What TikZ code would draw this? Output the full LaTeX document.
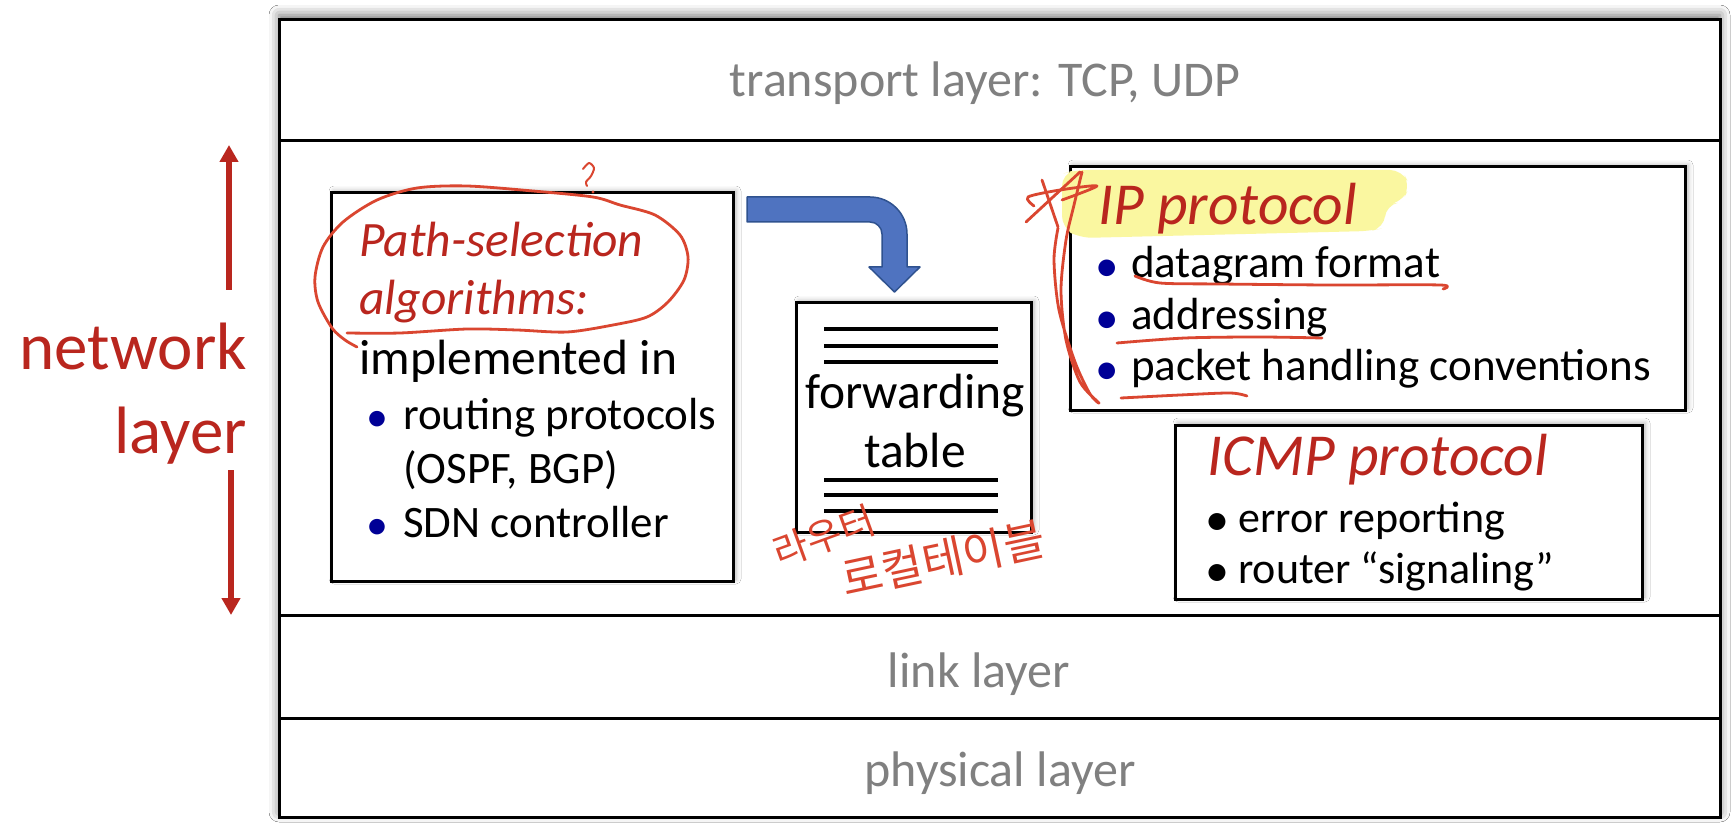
\documentclass[tikz,border=0pt]{standalone}
\usepackage{fontspec}
\setmainfont{Carlito}
\newfontfamily\krfont{Noto Sans CJK KR}
\usetikzlibrary{arrows.meta,positioning,calc,shadows.blur}

\definecolor{netred}{RGB}{185,38,30}
\definecolor{layergray}{RGB}{128,128,128}
\definecolor{bulletblue}{RGB}{0,0,150}
\definecolor{arrowblue}{RGB}{79,115,192}
\definecolor{arrowedge}{RGB}{47,82,143}
\definecolor{penred}{RGB}{218,70,48}
\definecolor{marker}{RGB}{250,247,160}

\begin{document}
\begin{tikzpicture}[
    x=1pt, y=-1pt,
    box/.style={draw, line width=3pt, fill=white, inner sep=0pt,
        blur shadow={shadow xshift=3pt, shadow yshift=2pt, shadow blur radius=5pt, shadow opacity=30}},
    layer text/.style={anchor=base, inner sep=0pt, text=layergray, font=\fontsize{50}{60}\selectfont},
    boxtext/.style={anchor=base west, inner sep=0pt, font=\fontsize{49.5}{58}\selectfont},
    subtext/.style={anchor=base west, inner sep=0pt, font=\fontsize{45}{53}\selectfont},
    smalltext/.style={anchor=base west, inner sep=0pt, font=\fontsize{44}{52}\selectfont},
    boxtitle/.style={anchor=base west, inner sep=0pt, text=netred, font=\fontsize{59.5}{70}\selectfont\itshape},
    bulletmark/.style={anchor=base, inner sep=0pt, text=bulletblue, font=\fontsize{44}{44}\selectfont},
    pen/.style={draw=penred, line width=2.8pt, line cap=round, line join=round},
    pen text/.style={inner sep=0pt, text=penred},
]

\fill[white] (0,0) rectangle (1732,826);
\useasboundingbox (0,0) rectangle (1732,826);

% === Protocol stack ===
\node[box, minimum width=1441pt, minimum height=797pt,
      blur shadow={shadow xshift=0pt, shadow yshift=5pt, shadow blur radius=10pt, shadow opacity=30}]
      (stack) at (999.5,418.5) {};
\draw[line width=3pt] (279,141) -- (1720,141);
\draw[line width=3pt] (279,615) -- (1720,615);
\draw[line width=3pt] (279,718) -- (1720,718);

\node[layer text] (transport) at (985,97) {transport layer: TCP, UDP};
\node[layer text] (link) at (979,687) {link layer};
\node[layer text] (physical) at (1000,786) {physical layer};

% === Network layer label ===
\node[anchor=base east, inner sep=0pt, text=netred, font=\fontsize{67}{80}\selectfont] (net1) at (247,369) {network};
\node[anchor=base east, inner sep=0pt, text=netred, font=\fontsize{67}{80}\selectfont] (net2) at (247,453) {layer};
\coordinate (uptop) at (229,145);
\coordinate (upfoot) at (229,290);
\coordinate (downtop) at (231,470);
\coordinate (downfoot) at (231,615);
\draw[netred, line width=6pt, -{Triangle[width=18pt,length=17pt]}] (upfoot) -- (uptop);
\draw[netred, line width=6pt, -{Triangle[width=18pt,length=17pt]}] (downtop) -- (downfoot);

% === Path-selection box ===
\node[box, minimum width=402pt, minimum height=388pt] (ps) at (532,387) {};
\node[boxtext, text=netred, font=\fontsize{49.5}{58}\selectfont\itshape] (ps1) at (359,257) {Path-selection};
\node[boxtext, text=netred, font=\fontsize{49.5}{58}\selectfont\itshape] (ps2) at (359,315) {algorithms:};
\node[boxtext] (ps3) at (359,374) {implemented in};
\node[bulletmark] (psb1) at (377,431) {•};
\node[subtext] (ps4) at (403,429) {routing protocols};
\node[subtext] (ps5) at (403,483) {(OSPF, BGP)};
\node[bulletmark] (psb2) at (377,539) {•};
\node[subtext] (ps6) at (403,537) {SDN controller};

% === Forwarding table ===
\node[box, minimum width=235pt, minimum height=229pt] (ft) at (913.5,417.5) {};
\foreach \y in {329,346,362,480,495,511}
    \draw[line width=3.5pt] (824,\y) -- (998,\y);
\node[boxtext, anchor=base] (ft1) at (915,408) {forwarding};
\node[boxtext, anchor=base] (ft2) at (915,467) {table};

% bent arrow
\filldraw[fill=arrowblue, draw=arrowedge, line width=1.5pt, line join=round]
    (747,197) -- (870,197) .. controls (890.4,197) and (907,213.6) .. (907,234)
    -- (907,267) -- (920,267) -- (894.5,292) -- (869,267) -- (882,267) -- (882,234)
    .. controls (882,227.4) and (876.6,222) .. (870,222) -- (747,222) -- cycle;

% === IP protocol box ===
\node[box, minimum width=615pt, minimum height=243pt] (ip) at (1377.5,288.5) {};
\fill[marker, rounded corners=12pt] (1062,174) -- (1075,170) -- (1402,170) -- (1410,186)
    -- (1402,202) -- (1386,205) -- (1384,228) -- (1370,231) -- (1080,238) -- (1062,228) -- cycle;
\node[boxtitle] (ip1) at (1098,225) {IP protocol};
\node[bulletmark, font=\fontsize{47}{47}\selectfont] (ipb1) at (1107,282) {•};
\node[subtext] (ip2) at (1131,278) {datagram format};
\node[bulletmark, font=\fontsize{47}{47}\selectfont] (ipb2) at (1107,334) {•};
\node[subtext] (ip3) at (1131,330) {addressing};
\node[bulletmark, font=\fontsize{47}{47}\selectfont] (ipb3) at (1107,384) {•};
\node[subtext] (ip4) at (1131,380) {packet handling conventions};

% === ICMP protocol box ===
\node[box, minimum width=467pt, minimum height=174pt] (icmp) at (1408.5,512) {};
\node[boxtitle] (icmp1) at (1207,475) {ICMP protocol};
\node[bulletmark, text=black, font=\fontsize{48}{48}\selectfont] (icmpb1) at (1217,535) {•};
\node[smalltext] (icmp2) at (1238,532) {error reporting};
\node[bulletmark, text=black, font=\fontsize{48}{48}\selectfont] (icmpb2) at (1217,586) {•};
\node[smalltext] (icmp3) at (1238,583) {router “signaling”};

% === Handwritten notes ===
\draw[pen] plot[smooth] coordinates {(347,333) (400,333) (467,329) (517,330) (567,332) (613,325)
    (647,317) (668,302) (684,280) (688,257) (680,235) (655,215) (620,205) (593,197) (533,191)
    (467,186) (417,188) (377,200) (343,222) (323,247) (315,277) (318,302) (332,328) (345,340) (357,347)};
\draw[pen, line width=2pt] plot[smooth] coordinates {(583,169) (589,163) (594,168) (591,176) (586,182) (587,186)};
\fill[penred] (593,192) circle (1.6pt);

\node[pen text, rotate=20, font=\fontsize{38}{38}\selectfont\krfont] (kr1) at (824,536) {라우터};
\node[pen text, rotate=12, font=\fontsize{45}{45}\selectfont\krfont] (kr2) at (943,559) {로컬테이블};

\draw[pen] (1026,222) -- (1080,172);
\draw[pen] plot[smooth] coordinates {(1034,206) (1028,197) (1060,190) (1097,186) (1062,200)};
\draw[pen] (1042,180) -- (1058,227);
\draw[pen] plot[smooth] coordinates {(1082,172) (1074,205) (1066,240) (1061,290) (1066,340)
    (1080,382) (1099,403) (1090,394) (1075,362) (1059,310) (1054,260) (1058,228)};

\draw[pen] plot[smooth] coordinates {(1135,276) (1160,283) (1220,284) (1330,285) (1440,285) (1443,289)};
\draw[pen] plot[smooth] coordinates {(1117,343) (1185,338) (1260,337) (1322,338)};
\draw[pen] plot[smooth] coordinates {(1121,398) (1180,395) (1230,393) (1247,396)};

\end{tikzpicture}
\end{document}
